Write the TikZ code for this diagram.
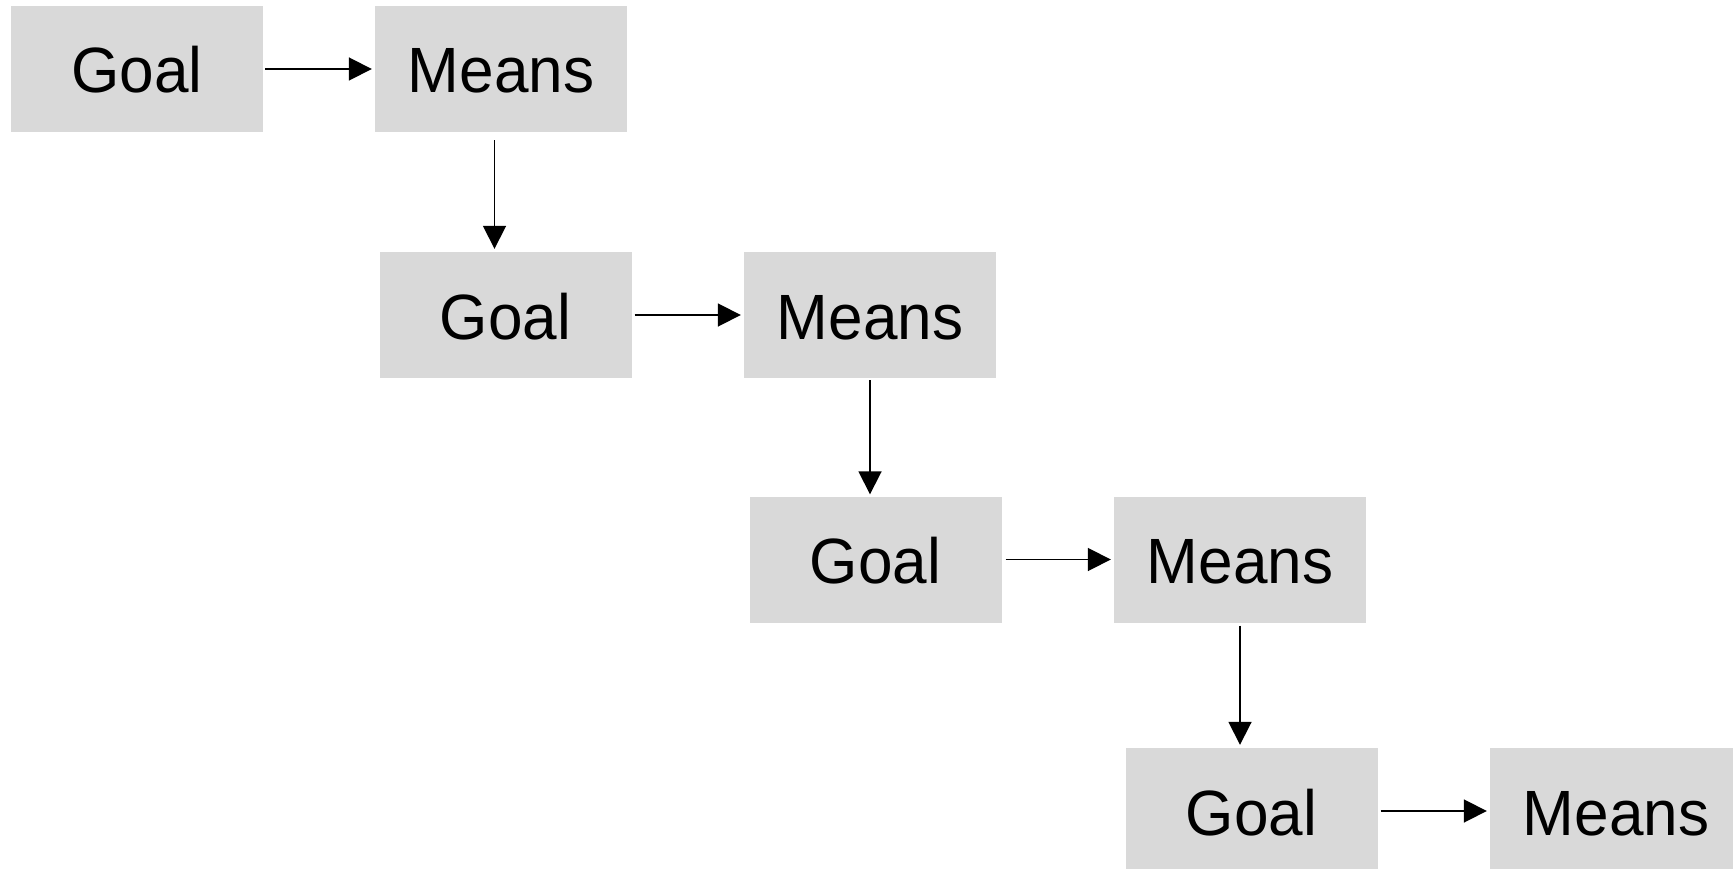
\documentclass[tikz,border=0pt]{standalone}
\usepackage{fontspec}
\setmainfont[FakeStretch=0.97]{Liberation Sans}
\usetikzlibrary{arrows.meta}
\definecolor{boxgray}{HTML}{D9D9D9}
\tikzset{
  gbox/.style={fill=boxgray, draw=none, minimum width=252pt, minimum height=126pt,
    inner sep=0pt, font=\fontsize{64}{70}\selectfont, text height=46pt, text depth=0pt},
  arr/.style={line width=1.8pt, -{Triangle[length=23pt,width=23pt]}}
}
\begin{document}
\begin{tikzpicture}[x=1pt,y=-1pt]
\useasboundingbox (0,0) rectangle (1733,869);
\clip (0,0) rectangle (1733,869);
\node[gbox] (g1) at (137,69) {\raisebox{-1pt}{Goal}};
\node[gbox] (m1) at (501,69) {\raisebox{-1pt}{Means}};
\node[gbox] (g2) at (505.5,315) {\raisebox{-1pt}{Goal}};
\node[gbox] (m2) at (870,315) {\raisebox{-1pt}{Means}};
\node[gbox] (g3) at (875.5,559.5) {\raisebox{-1pt}{Goal}};
\node[gbox] (m3) at (1240,559.5) {\raisebox{-1pt}{Means}};
\node[gbox] (g4) at (1251.5,811) {\raisebox{-1pt}{Goal}};
\node[gbox] (m4) at (1616,811) {\raisebox{-1pt}{Means}};
\draw[arr, shorten <=2pt, shorten >=3pt] (g1.east) -- (m1.west);
\draw[arr, shorten <=3pt, shorten >=3pt] (g2.east) -- (m2.west);
\draw[arr, shorten <=4pt, shorten >=3pt] (g3.east) -- (m3.west);
\draw[arr, shorten <=3pt, shorten >=3pt] (g4.east) -- (m4.west);
\draw[arr, shorten <=8pt, shorten >=3pt] ([xshift=-6.5pt]m1.south) -- ([xshift=-6.5pt]m1.south |- g2.north);
\draw[arr, shorten <=2pt, shorten >=2pt] (m2.south) -- (m2.south |- g3.north);
\draw[arr, shorten <=3pt, shorten >=3pt] (m3.south) -- (m3.south |- g4.north);
\end{tikzpicture}
\end{document}
